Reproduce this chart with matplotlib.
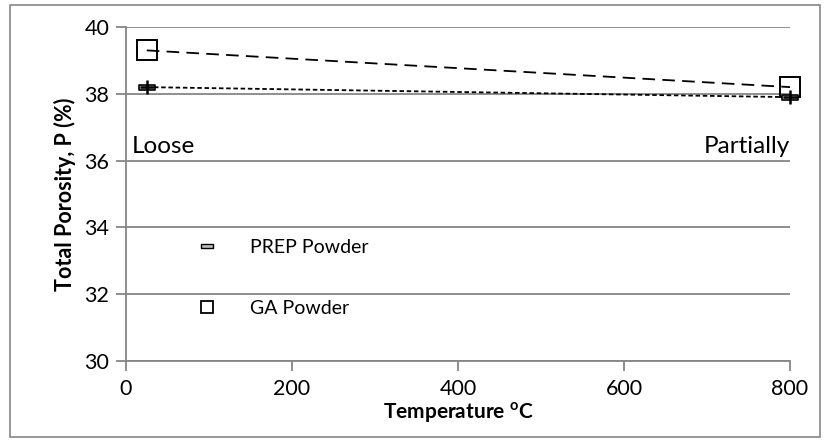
"""Porosité totale en fonction de la température (poudres PREP et GA)."""

import matplotlib

matplotlib.use("Agg")
import matplotlib.pyplot as plt
from matplotlib.lines import Line2D
from matplotlib.patches import Rectangle
from matplotlib.path import Path

temperature = [25, 800]
prep_porosity = [38.2, 37.9]
ga_porosity = [39.3, 38.2]

x_ticks = [0, 200, 400, 600, 800]
y_ticks = [30, 32, 34, 36, 38, 40]

GRID = "#868686"

plt.rcParams["font.family"] = ["Lato", "DejaVu Sans"]

# marqueur "tiret" type Excel : petit rectangle plat
dash_marker = Path([(-1, -0.3), (1, -0.3), (1, 0.3), (-1, 0.3), (-1, -0.3)],
                   [Path.MOVETO, Path.LINETO, Path.LINETO, Path.LINETO, Path.CLOSEPOLY])

fig = plt.figure(figsize=(8.25, 4.4), dpi=100)
ax = fig.add_axes([126 / 825, 1 - 361 / 440, (790 - 126) / 825, (361 - 27) / 440])

fig.patches.append(Rectangle((10 / 825, 3 / 440), 810 / 825, 432 / 440, transform=fig.transFigure,
                             fill=False, edgecolor=GRID, linewidth=1.2))

ax.plot(temperature, ga_porosity, color="black", linestyle=(0, (7, 4)), linewidth=1.3,
        marker="s", markersize=14, markerfacecolor="none", markeredgecolor="black",
        markeredgewidth=1.4, zorder=3, clip_on=False)
ax.plot(temperature, prep_porosity, color="black", linestyle=(0, (2.5, 1.5)), linewidth=1.3,
        marker=dash_marker, markersize=12, markerfacecolor="#bfbfbf", markeredgecolor="black",
        markeredgewidth=1.2, zorder=3, clip_on=False)
ax.plot(temperature, prep_porosity, linestyle="none", marker="+", markersize=10,
        markeredgecolor="black", markeredgewidth=1.8, zorder=4, clip_on=False)

ax.set_xlim(0, 800)
ax.set_ylim(30, 40)
ax.set_xticks(x_ticks)
ax.set_yticks(y_ticks)
ax.tick_params(axis="both", labelsize=15.5, color=GRID, width=1.3, length=7, direction="out")
ax.tick_params(axis="y", pad=5)
ax.tick_params(axis="x", pad=6)
ax.grid(axis="y", color=GRID, linewidth=1.3)
ax.set_axisbelow(True)
for side in ("top", "right"):
    ax.spines[side].set_visible(False)
for side in ("left", "bottom"):
    ax.spines[side].set_color(GRID)
    ax.spines[side].set_linewidth(1.3)

ax.set_xlabel("Temperature $^{\\mathregular{o}}$C", fontsize=15, fontweight="bold", labelpad=1)
ax.set_ylabel("Total Porosity, P (%)", fontsize=15.5, fontweight="bold", labelpad=6)

ax.text(7, 36.23, "Loose", fontsize=17.5, ha="left", va="baseline")
ax.text(800, 36.23, "Partially", fontsize=17.5, ha="right", va="baseline")

handles = [
    Line2D([], [], linestyle="none", marker=dash_marker, markersize=9,
           markerfacecolor="#bfbfbf", markeredgecolor="black", markeredgewidth=1.0),
    Line2D([], [], linestyle="none", marker="s", markersize=8.5,
           markerfacecolor="none", markeredgecolor="black", markeredgewidth=1.3),
]
ax.legend(handles, ["PREP Powder", "GA Powder"], loc="upper left", bbox_to_anchor=(0.085, 0.395),
          frameon=False, fontsize=14, labelspacing=2.25, handletextpad=1.45, handlelength=1.5,
          borderpad=0)

fig.savefig("out.png", dpi=100)
